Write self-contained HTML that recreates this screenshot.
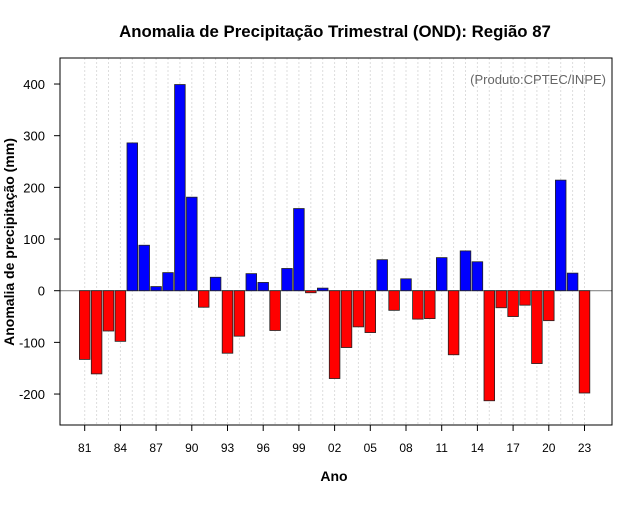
<!DOCTYPE html>
<html><head><meta charset="utf-8"><style>
body{margin:0;background:#fff;}
svg text{font-family:"Liberation Sans",sans-serif;}
</style></head><body>
<svg id="chart" width="640" height="500" xmlns="http://www.w3.org/2000/svg">
<rect width="640" height="500" fill="#fff"/>
<text x="335" y="37" font-size="16.8" font-weight="bold" text-anchor="middle">Anomalia de Precipitação Trimestral (OND): Região 87</text>
<text x="334" y="481" font-size="14" font-weight="bold" text-anchor="middle">Ano</text>
<text transform="translate(14,242) rotate(-90)" font-size="14" font-weight="bold" text-anchor="middle">Anomalia de precipitação (mm)</text>
<g id="grid"></g>
<g id="bars"></g>
<g id="axes"></g>
<rect x="60" y="58" width="552" height="367" fill="none" stroke="#000" stroke-width="1"/>
<text x="606" y="84" font-size="13" fill="#666" text-anchor="end">(Produto:CPTEC/INPE)</text>
</svg>
<script>
const years = [81,82,83,84,85,86,87,88,89,90,91,92,93,94,95,96,97,98,99,0,1,2,3,4,5,6,7,8,9,10,11,12,13,14,15,16,17,18,19,20,21,22,23];
const anomalies = [-133,-161,-78,-98,286,88,8,35,399,181,-32,26,-121,-88,33,16,-77,43,159,-4,5,-170,-110,-70,-81,60,-38,23,-55,-54,64,-124,77,56,-213,-33,-50,-28,-141,-58,214,34,-198];
const yTicks = [-200,-100,0,100,200,300,400];
const NS="http://www.w3.org/2000/svg";
function yPos(v){return 290.7 - v*0.5167;}
function xPos(i){return 84.7 + i*11.9;}
const grid=document.getElementById('grid'), bars=document.getElementById('bars'), axes=document.getElementById('axes');
function mk(tag,attrs,parent){const e=document.createElementNS(NS,tag);for(const k in attrs)e.setAttribute(k,attrs[k]);parent.appendChild(e);return e;}
years.forEach((y,i)=>{
  const g=mk('line',{x1:xPos(i),x2:xPos(i),y1:58,y2:425,stroke:'#ddd','stroke-dasharray':'2,2','stroke-width':1},grid);
  
  
});
const zl=mk('line',{x1:60,x2:612,y1:yPos(0),y2:yPos(0),stroke:'#888','stroke-width':1.2},grid);


anomalies.forEach((v,i)=>{
  const y0=yPos(0), y1=yPos(v);
  const r=mk('rect',{x:xPos(i)-5.3,y:Math.min(y0,y1),width:10.6,height:Math.max(Math.abs(y1-y0),1),fill:v>=0?'#0000ff':'#ff0000',stroke:'#222','stroke-width':0.8},bars);
  
  
});
yTicks.forEach(t=>{
  const l=mk('line',{x1:54,x2:60,y1:yPos(t),y2:yPos(t),stroke:'#000'},axes);
  
  
  const tx=mk('text',{x:45,y:yPos(t)+5,'font-size':13,'text-anchor':'end'},axes);
  tx.textContent=t;
  
  
});
years.forEach((y,i)=>{
  if(i%3!==0)return;
  const l=mk('line',{x1:xPos(i),x2:xPos(i),y1:425,y2:431,stroke:'#000'},axes);
  
  
  const tx=mk('text',{x:xPos(i),y:452,'font-size':12,'text-anchor':'middle'},axes);
  tx.textContent=String(y).padStart(2,'0');
  
  
});
</script>
</body></html>
